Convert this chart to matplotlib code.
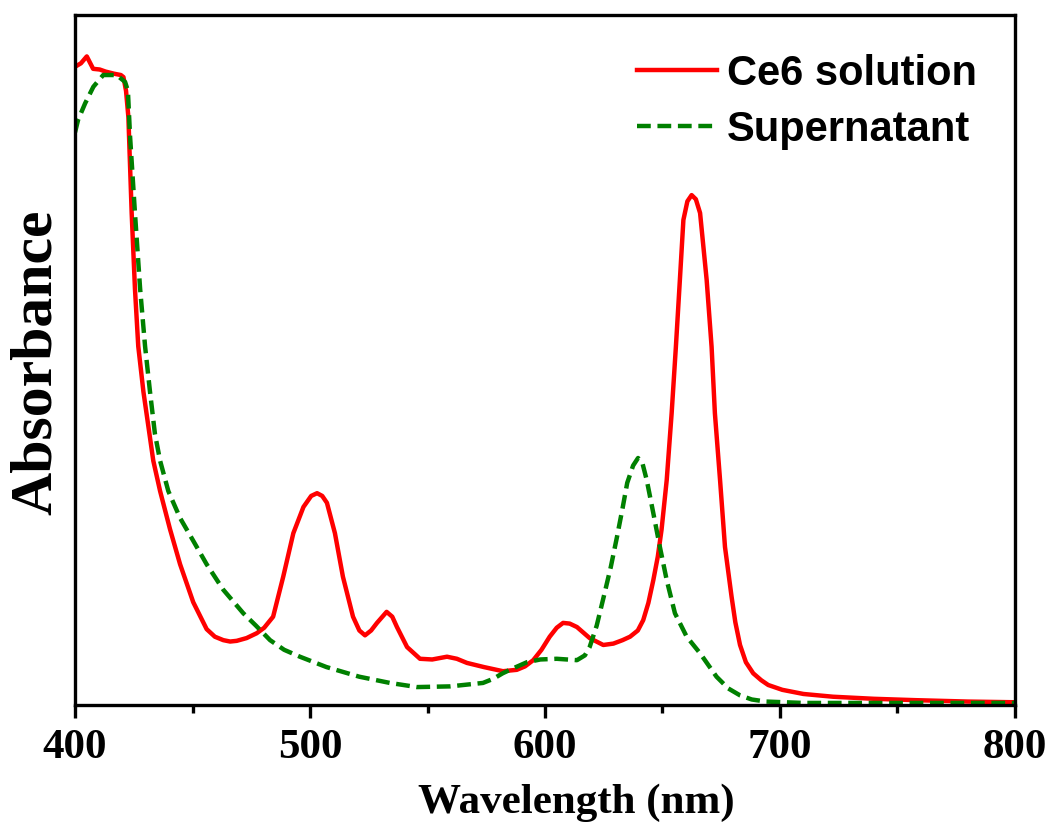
import matplotlib
matplotlib.use('Agg')
import matplotlib.pyplot as plt

# Ce6 solution spectrum (wavelength in nm, absorbance in arbitrary units)
wl_ce6 = [400, 402.5, 405, 407.7, 410.5, 413, 416.5, 419.5, 420.6, 421.7, 422.7,
          424.1, 425.5, 426.9, 429.1, 431.2, 433.3, 436.2, 440.4, 444.7, 450.3,
          456, 459.5, 463.1, 466, 468.8, 473, 477.3, 480.5, 484.3, 488.6, 492.9,
          497.2, 500.5, 503, 505.2, 507.2, 510.6, 514, 518.3, 521, 523.4, 526,
          528.5, 532.6, 535, 537, 541.3, 546.8, 552, 558.3, 562.5, 566.8, 574,
          582.1, 588, 591.5, 595, 598.5, 602, 605, 607.7, 610.5, 613.6, 619,
          624.8, 629.1, 633, 636.2, 639.5, 641.8, 644, 646.1, 648, 649.6, 651.8,
          653.9, 655.7, 657.4, 658.9, 660.6, 662.4, 664.2, 666, 668.8, 670.9,
          672.3, 674.5, 676.6, 679.4, 681, 683, 685.5, 688.6, 692, 695, 701, 710,
          722.6, 740, 758, 780, 800]
abs_ce6 = [0.925, 0.93, 0.94, 0.922, 0.921, 0.918, 0.915, 0.913, 0.91, 0.89, 0.852,
           0.713, 0.603, 0.52, 0.454, 0.404, 0.354, 0.31, 0.255, 0.204, 0.149,
           0.11, 0.099, 0.094, 0.092, 0.093, 0.097, 0.104, 0.112, 0.128, 0.186,
           0.249, 0.287, 0.303, 0.307, 0.303, 0.293, 0.249, 0.186, 0.128, 0.108,
           0.101, 0.108, 0.119, 0.135, 0.128, 0.113, 0.084, 0.067, 0.066, 0.07,
           0.067, 0.061, 0.055, 0.049, 0.051, 0.056, 0.065, 0.08, 0.099, 0.112,
           0.119, 0.118, 0.113, 0.097, 0.087, 0.089, 0.094, 0.099, 0.108, 0.123,
           0.148, 0.181, 0.215, 0.254, 0.326, 0.423, 0.519, 0.616, 0.703, 0.73,
           0.739, 0.733, 0.713, 0.616, 0.519, 0.423, 0.326, 0.229, 0.157, 0.12,
           0.087, 0.062, 0.046, 0.036, 0.029, 0.022, 0.016, 0.012, 0.009, 0.007,
           0.005, 0.004]

# Supernatant spectrum
wl_sup = [400, 401.3, 404.3, 407.8, 412, 417.7, 421.3, 422.5, 423.4, 425.5, 427.7,
          429.8, 431.9, 434, 436.2, 439.7, 444.7, 450.3, 456, 463.1, 471.6, 477,
          483, 489, 495.7, 507, 521, 534, 545.5, 559.6, 573.6, 578, 582, 587,
          592.3, 598, 605, 613.6, 617, 619, 622, 625, 628, 630.6, 633, 635,
          637.5, 639.6, 641.5, 643.3, 646.1, 648.9, 651.8, 655.3, 660.3, 666, 673,
          678, 683, 688, 694, 710, 750, 800]
abs_sup = [0.83, 0.848, 0.872, 0.896, 0.913, 0.913, 0.903, 0.89, 0.825, 0.713,
           0.603, 0.52, 0.454, 0.393, 0.354, 0.31, 0.271, 0.238, 0.204, 0.167,
           0.133, 0.115, 0.094, 0.08, 0.07, 0.055, 0.041, 0.032, 0.026, 0.027,
           0.032, 0.038, 0.046, 0.054, 0.062, 0.066, 0.067, 0.065, 0.072, 0.084,
           0.115, 0.157, 0.2, 0.243, 0.285, 0.322, 0.347, 0.358, 0.35, 0.326,
           0.278, 0.229, 0.181, 0.133, 0.099, 0.075, 0.041, 0.024, 0.014, 0.008,
           0.005, 0.003, 0.003, 0.003]

xticks = [400, 500, 600, 700, 800]
minor_xticks = [450, 550, 650, 750]

fig = plt.figure(figsize=(10.51, 8.24), dpi=100)
ax = fig.add_axes([0.0714, 0.1444, 0.8943, 0.8374])

ax.plot(wl_ce6, abs_ce6, color='#ff0000', lw=3.2, label='Ce6 solution',
        solid_joinstyle='round')
ax.plot(wl_sup, abs_sup, color='#008000', lw=3.2, ls=(0, (3.1, 1.5)),
        label='Supernatant')

ax.set_xlim(400, 800)
ax.set_ylim(0, 1)
ax.set_xticks(xticks)
ax.set_xticks(minor_xticks, minor=True)
ax.set_yticks([])

for s in ax.spines.values():
    s.set_linewidth(2.4)

ax.tick_params(axis='x', which='major', direction='out', length=9, width=2.4, pad=8)
ax.tick_params(axis='x', which='minor', direction='out', length=6, width=2.4)
for t in ax.get_xticklabels():
    t.set_fontfamily('Liberation Serif')
    t.set_fontweight('bold')
    t.set_fontsize(31)

ax.set_xlabel('Wavelength (nm)', fontfamily='Liberation Serif', fontweight='bold',
              fontsize=31)
ax.xaxis.set_label_coords(0.533, -0.114)
ax.set_ylabel('Absorbance', fontfamily='Liberation Serif', fontweight='bold',
              fontsize=43)
ax.yaxis.set_label_coords(-0.012, 0.497)

leg = ax.legend(loc='upper right', bbox_to_anchor=(0.977, 0.968), borderaxespad=0,
                frameon=False, handlelength=1.92, handletextpad=0.24,
                labelspacing=0.39,
                prop={'family': 'Liberation Sans', 'weight': 'bold', 'size': 30})

fig.savefig('out.png', dpi=100)
